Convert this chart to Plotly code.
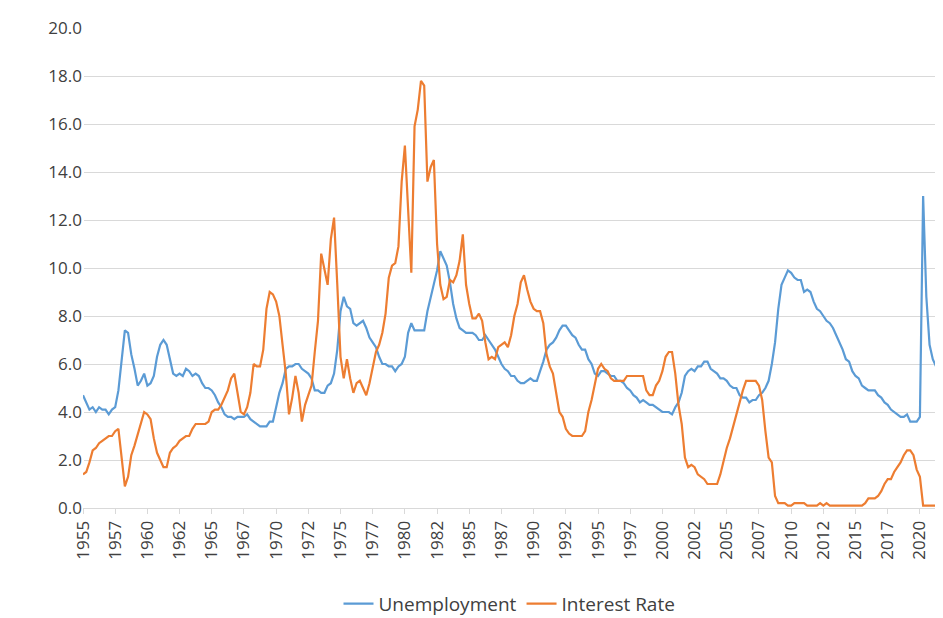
import plotly.graph_objects as go

years = list(range(1955, 2022))

unemployment = [
    4.7, 4.4, 4.1, 4.2, 4.0, 4.2, 4.1, 4.1, 3.9, 4.1, 4.2, 4.9, 6.3, 7.4, 7.3, 6.4,
    5.8, 5.1, 5.3, 5.6, 5.1, 5.2, 5.5, 6.3, 6.8, 7.0, 6.8, 6.2, 5.6, 5.5, 5.6, 5.5,
    5.8, 5.7, 5.5, 5.6, 5.5, 5.2, 5.0, 5.0, 4.9, 4.7, 4.4, 4.2, 3.9, 3.8, 3.8, 3.7,
    3.8, 3.8, 3.8, 3.9, 3.7, 3.6, 3.5, 3.4, 3.4, 3.4, 3.6, 3.6, 4.2, 4.8, 5.2, 5.8,
    5.9, 5.9, 6.0, 6.0, 5.8, 5.7, 5.6, 5.4, 4.9, 4.9, 4.8, 4.8, 5.1, 5.2, 5.6, 6.6,
    8.2, 8.8, 8.4, 8.3, 7.7, 7.6, 7.7, 7.8, 7.5, 7.1, 6.9, 6.7, 6.3, 6.0, 6.0, 5.9,
    5.9, 5.7, 5.9, 6.0, 6.3, 7.3, 7.7, 7.4, 7.4, 7.4, 7.4, 8.2, 8.8, 9.4, 9.9, 10.7,
    10.4, 10.1, 9.4, 8.5, 7.9, 7.5, 7.4, 7.3, 7.3, 7.3, 7.2, 7.0, 7.0, 7.2, 7.0, 6.8,
    6.6, 6.3, 6.0, 5.8, 5.7, 5.5, 5.5, 5.3, 5.2, 5.2, 5.3, 5.4, 5.3, 5.3, 5.7, 6.1,
    6.6, 6.8, 6.9, 7.1, 7.4, 7.6, 7.6, 7.4, 7.2, 7.1, 6.8, 6.6, 6.6, 6.2, 6.0, 5.6,
    5.5, 5.7, 5.7, 5.6, 5.5, 5.5, 5.3, 5.3, 5.2, 5.0, 4.9, 4.7, 4.6, 4.4, 4.5, 4.4,
    4.3, 4.3, 4.2, 4.1, 4.0, 4.0, 4.0, 3.9, 4.2, 4.4, 4.8, 5.5, 5.7, 5.8, 5.7, 5.9,
    5.9, 6.1, 6.1, 5.8, 5.7, 5.6, 5.4, 5.4, 5.3, 5.1, 5.0, 5.0, 4.7, 4.6, 4.6, 4.4,
    4.5, 4.5, 4.7, 4.8, 5.0, 5.3, 6.0, 6.9, 8.3, 9.3, 9.6, 9.9, 9.8, 9.6, 9.5, 9.5,
    9.0, 9.1, 9.0, 8.6, 8.3, 8.2, 8.0, 7.8, 7.7, 7.5, 7.2, 6.9, 6.6, 6.2, 6.1, 5.7,
    5.5, 5.4, 5.1, 5.0, 4.9, 4.9, 4.9, 4.7, 4.6, 4.4, 4.3, 4.1, 4.0, 3.9, 3.8, 3.8,
    3.9, 3.6, 3.6, 3.6, 3.8, 13.0, 8.8, 6.8, 6.2, 5.9,
]

interest_rate = [
    1.4, 1.5, 1.9, 2.4, 2.5, 2.7, 2.8, 2.9, 3.0, 3.0, 3.2, 3.3, 2.0, 0.9, 1.3, 2.2,
    2.6, 3.1, 3.6, 4.0, 3.9, 3.7, 2.9, 2.3, 2.0, 1.7, 1.7, 2.3, 2.5, 2.6, 2.8, 2.9,
    3.0, 3.0, 3.3, 3.5, 3.5, 3.5, 3.5, 3.6, 4.0, 4.1, 4.1, 4.3, 4.6, 4.9, 5.4, 5.6,
    4.8, 4.0, 3.9, 4.2, 4.8, 6.0, 5.9, 5.9, 6.6, 8.3, 9.0, 8.9, 8.6, 8.0, 6.8, 5.6,
    3.9, 4.6, 5.5, 4.8, 3.6, 4.3, 4.7, 5.1, 6.5, 7.8, 10.6, 10.0, 9.3, 11.2, 12.1, 9.3,
    6.3, 5.4, 6.2, 5.4, 4.8, 5.2, 5.3, 5.0, 4.7, 5.2, 5.8, 6.5, 6.8, 7.3, 8.1, 9.6,
    10.1, 10.2, 10.9, 13.6, 15.1, 12.7, 9.8, 15.9, 16.6, 17.8, 17.6, 13.6, 14.2, 14.5, 11.0, 9.3,
    8.7, 8.8, 9.5, 9.4, 9.7, 10.3, 11.4, 9.3, 8.5, 7.9, 7.9, 8.1, 7.8, 6.9, 6.2, 6.3,
    6.2, 6.7, 6.8, 6.9, 6.7, 7.2, 8.0, 8.5, 9.4, 9.7, 9.1, 8.6, 8.3, 8.2, 8.2, 7.7,
    6.4, 5.9, 5.6, 4.8, 4.0, 3.8, 3.3, 3.1, 3.0, 3.0, 3.0, 3.0, 3.2, 4.0, 4.5, 5.2,
    5.8, 6.0, 5.8, 5.7, 5.4, 5.3, 5.3, 5.3, 5.3, 5.5, 5.5, 5.5, 5.5, 5.5, 5.5, 4.9,
    4.7, 4.7, 5.1, 5.3, 5.7, 6.3, 6.5, 6.5, 5.6, 4.3, 3.5, 2.1, 1.7, 1.8, 1.7, 1.4,
    1.3, 1.2, 1.0, 1.0, 1.0, 1.0, 1.4, 2.0, 2.5, 2.9, 3.4, 4.0, 4.5, 4.9, 5.3, 5.3,
    5.3, 5.3, 5.1, 4.5, 3.2, 2.1, 1.9, 0.5, 0.2, 0.2, 0.2, 0.1, 0.1, 0.2, 0.2, 0.2,
    0.2, 0.1, 0.1, 0.1, 0.1, 0.2, 0.1, 0.2, 0.1, 0.1, 0.1, 0.1, 0.1, 0.1, 0.1, 0.1,
    0.1, 0.1, 0.1, 0.2, 0.4, 0.4, 0.4, 0.5, 0.7, 1.0, 1.2, 1.2, 1.5, 1.7, 1.9, 2.2,
    2.4, 2.4, 2.2, 1.6, 1.3, 0.1, 0.1, 0.1, 0.1, 0.1,
]

# one label per quarter, every 10th shown (like Excel's category axis)
labels = [str(y) for y in years for q in range(4)][:len(unemployment)]
x = list(range(len(unemployment)))
tick_idx = x[::10]

fig = go.Figure()
fig.add_trace(go.Scatter(x=x, y=unemployment, mode='lines', name='Unemployment',
                         line=dict(color='#5B9BD5', width=2.2)))
fig.add_trace(go.Scatter(x=x, y=interest_rate, mode='lines', name='Interest Rate',
                         line=dict(color='#ED7D31', width=2.2)))

fig.update_layout(
    width=943, height=618,
    margin=dict(l=75, r=15, t=20, b=118, autoexpand=False),
    plot_bgcolor='white', paper_bgcolor='white',
    font=dict(family='Open Sans', size=17, color='#404040'),
    legend=dict(orientation='h', x=0.5, xanchor='center', y=-0.16, yanchor='top',
                font=dict(size=19)),
    xaxis=dict(range=[0, len(x) - 1], tickmode='array', tickvals=tick_idx,
               ticktext=[labels[i] for i in tick_idx], tickangle=-90,
               showgrid=False, showline=True, linecolor='#D9D9D9',
               ticks='outside', ticklen=5, tickcolor='#D9D9D9', automargin=False),
    yaxis=dict(range=[0, 20], dtick=2, tickformat='.1f', gridcolor='#D9D9D9',
               zeroline=False, ticks='', automargin=False),
)

fig.write_html("out.html")
